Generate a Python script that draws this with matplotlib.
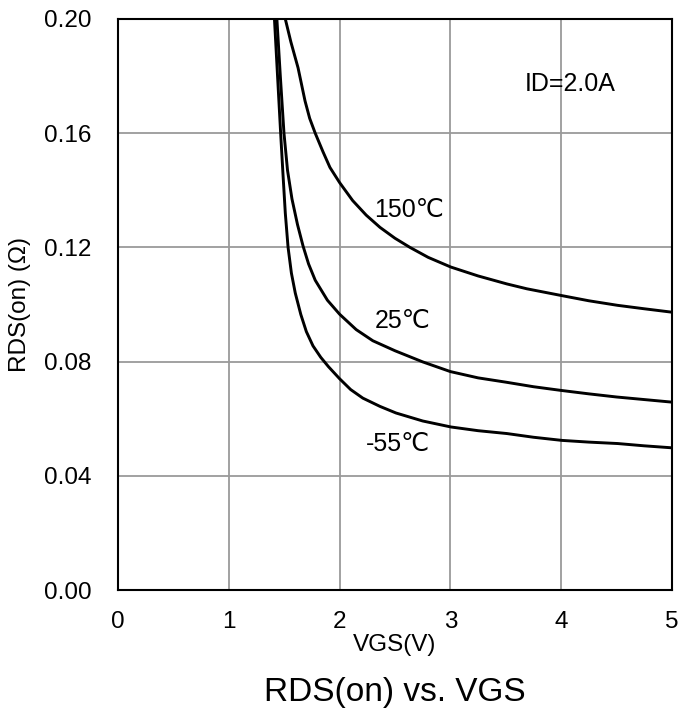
import numpy as np
import matplotlib.pyplot as plt

plt.rcParams['font.family'] = ['Liberation Sans', 'DejaVu Sans']

# VGS (V) and RDS(on) (ohm)
vgs_150 = [1.50, 1.51, 1.56, 1.625, 1.688, 1.73, 1.78, 1.85, 1.913, 2.00, 2.118, 2.24, 2.365, 2.50, 2.635, 2.80, 3.005, 3.25, 3.51, 3.69, 4.007, 4.25, 4.51, 4.75, 5.00]
rds_150 = [0.203, 0.200, 0.192, 0.1829, 0.1713, 0.1652, 0.160, 0.1535, 0.148, 0.1427, 0.1364, 0.1313, 0.127, 0.1232, 0.120, 0.1165, 0.1131, 0.110, 0.1072, 0.1055, 0.1031, 0.1013, 0.0997, 0.0985, 0.0973]

vgs_25 = [1.425, 1.434, 1.465, 1.498, 1.53, 1.57, 1.62, 1.67, 1.72, 1.78, 1.89, 2.00, 2.15, 2.30, 2.50, 2.75, 3.00, 3.25, 3.50, 3.75, 4.00, 4.25, 4.50, 4.75, 5.00]
rds_25 = [0.210, 0.200, 0.180, 0.160, 0.147, 0.137, 0.128, 0.1205, 0.1142, 0.1085, 0.1015, 0.0966, 0.0912, 0.0873, 0.0838, 0.0799, 0.0765, 0.0743, 0.0728, 0.0712, 0.0699, 0.0687, 0.0676, 0.0667, 0.0658]

vgs_m55 = [1.40, 1.412, 1.44, 1.468, 1.49, 1.51, 1.535, 1.565, 1.60, 1.65, 1.70, 1.76, 1.83, 1.90, 2.00, 2.10, 2.21, 2.365, 2.509, 2.75, 3.005, 3.25, 3.51, 3.75, 4.007, 4.25, 4.51, 4.75, 5.00]
rds_m55 = [0.210, 0.200, 0.180, 0.160, 0.145, 0.132, 0.120, 0.111, 0.104, 0.0965, 0.0905, 0.0855, 0.0815, 0.0782, 0.0740, 0.0702, 0.0672, 0.0643, 0.0620, 0.0592, 0.0571, 0.0558, 0.0548, 0.0535, 0.0524, 0.0518, 0.0513, 0.0505, 0.0498]

x_ticks = [0, 1, 2, 3, 4, 5]
y_ticks = [0.00, 0.04, 0.08, 0.12, 0.16, 0.20]

fig = plt.figure(figsize=(6.83, 7.13), dpi=100)
ax = fig.add_axes([0.1728, 0.1725, 0.811, 0.8009])

for v, r in [(vgs_150, rds_150), (vgs_25, rds_25), (vgs_m55, rds_m55)]:
    ax.plot(v, r, color='black', lw=2.1, solid_joinstyle='round')

ax.set_xlim(0, 5)
ax.set_ylim(0, 0.2)
ax.set_xticks(x_ticks)
ax.set_yticks(y_ticks)
ax.set_yticklabels(['%.2f' % t for t in y_ticks])
ax.tick_params(length=0, labelsize=17.5)
ax.tick_params(axis='x', pad=15)
ax.tick_params(axis='y', pad=19)
ax.grid(True, color='#9a9a9a', lw=1.3)
ax.set_axisbelow(True)
for s in ax.spines.values():
    s.set_linewidth(1.5)
    s.set_color('black')

ax.set_xlabel('VGS(V)', fontsize=17.5, va='center')
ax.xaxis.set_label_coords(0.5, (590 - 645) / 572)
ax.set_ylabel('RDS(on) (Ω)', fontsize=17.5, va='center')
ax.yaxis.set_label_coords((20 - 118) / 554, 0.5)

ax.text(2.63, 0.1332, '150℃', fontsize=18, ha='center', va='center')
ax.text(2.57, 0.0941, '25℃', fontsize=18, ha='center', va='center')
ax.text(2.53, 0.0510, '-55℃', fontsize=18, ha='center', va='center')
ax.text(4.08, 0.1773, 'ID=2.0A', fontsize=18, ha='center', va='center')

fig.text(395 / 683, 1 - 692 / 713, 'RDS(on) vs. VGS', fontsize=24, ha='center', va='center')

fig.savefig('out.png', dpi=100)
